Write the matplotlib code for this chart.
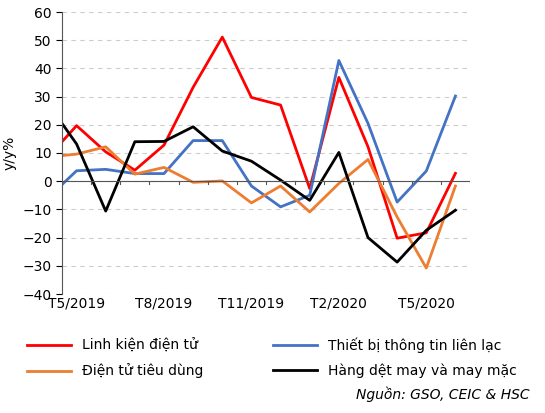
import matplotlib.pyplot as plt

# month positions (first point sits half a step before T5/2019)
x_pos = [-0.5, 0, 1, 2, 3, 4, 5, 6, 7, 8, 9, 10, 11, 12, 13]
tick_pos = [0, 3, 6, 9, 12]
tick_labels = ['T5/2019', 'T8/2019', 'T11/2019', 'T2/2020', 'T5/2020']

linh_kien = [14, 19.7, 10.4, 3.9, 12.8, 33.3, 51.1, 29.7, 27, -2.6, 36.8, 12.2, -20.2, -18.3, 2.8]
thiet_bi = [-1.2, 3.7, 4.2, 2.7, 2.7, 14.4, 14.4, -1.7, -9.1, -5, 42.8, 20.5, -7.4, 3.6, 30.2]
tieu_dung = [9.1, 9.6, 12.2, 2.5, 4.9, -0.4, 0.1, -7.7, -1.7, -10.9, -0.8, 7.7, -12.7, -30.8, -1.7]
det_may = [20.5, 13.2, -10.6, 14, 14.1, 19.3, 10.7, 7.1, 0.4, -6.8, 10.2, -20, -28.7, -17.4, -10.3]

fig = plt.figure(figsize=(5.45, 4.13), dpi=100)
ax = fig.add_axes([62/545, 1 - 294/413, 408/545, 282/413])

l1, = ax.plot(x_pos, linh_kien, color='#FF0000', lw=2, label='Linh kiện điện tử')
l2, = ax.plot(x_pos, thiet_bi, color='#4472C4', lw=2, label='Thiết bị thông tin liên lạc')
l3, = ax.plot(x_pos, tieu_dung, color='#ED7D31', lw=2, label='Điện tử tiêu dùng')
l4, = ax.plot(x_pos, det_may, color='black', lw=2, label='Hàng dệt may và may mặc')

ax.set_xlim(-0.5, 13.5)
ax.set_ylim(-40, 60)
ax.set_yticks(range(-40, 61, 10))
ax.set_xticks(tick_pos)
ax.set_xticklabels(tick_labels)
ax.tick_params(axis='x', length=0, pad=2, labelsize=10)
ax.tick_params(axis='y', labelsize=10, direction='out', length=4)
ax.grid(axis='y', ls=(0, (4, 4)), color='#CCCCCC', lw=0.8)
ax.set_axisbelow(True)
for s in ['top', 'right', 'bottom']:
    ax.spines[s].set_visible(False)
ax.spines['left'].set_color('#555555')
ax.axhline(0, color='#555555', lw=0.8)
# minor ticks on zero line
for m in range(0, 14):
    ax.plot([m + 0.5, m + 0.5], [0, -1], color='#555555', lw=0.8)
ax.set_ylabel('y/y%', fontsize=10)

fig.legend([l1, l3, l2, l4], [l.get_label() for l in [l1, l3, l2, l4]],
           loc='lower left', bbox_to_anchor=(14/545, 22/413), ncol=2, frameon=False,
           fontsize=10, handlelength=3.2, columnspacing=5.0, labelspacing=0.75)
fig.text(530/545, 14/413, 'Nguồn: GSO, CEIC & HSC', ha='right', fontsize=10, style='italic')

fig.savefig('out.png', dpi=100)
